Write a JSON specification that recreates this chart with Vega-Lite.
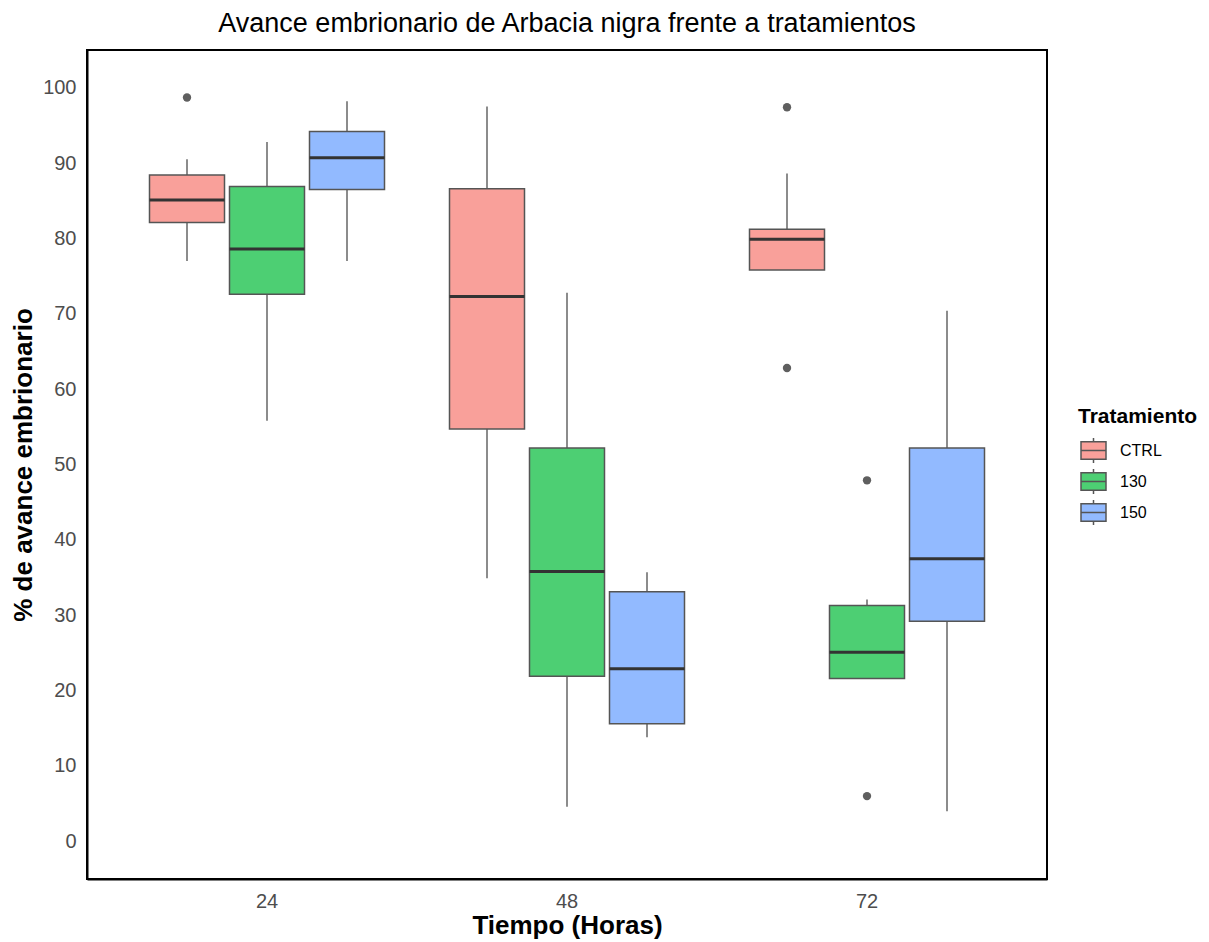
{
  "$schema": "https://vega.github.io/schema/vega-lite/v6.json",
  "width": 960,
  "height": 829,
  "autosize": {"type": "none"},
  "padding": {"left": 87, "top": 50, "right": 162, "bottom": 63},
  "background": "white",
  "title": {
    "text": "Avance embrionario de Arbacia nigra frente a tratamientos",
    "font": "Liberation Sans",
    "fontSize": 27,
    "fontWeight": "normal",
    "color": "#000000",
    "anchor": "middle",
    "baseline": "alphabetic",
    "offset": 0,
    "dy": 9
  },
  "config": {
    "view": {"stroke": "#000000", "strokeWidth": 2},
    "font": "Liberation Sans",
    "axis": {"grid": false, "ticks": false, "domainColor": "#000000", "domainWidth": 2, "labelColor": "#4D4D4D", "labelFontSize": 20, "labelFont": "Liberation Sans", "titleFont": "Liberation Sans", "titleFontWeight": "bold", "titleFontSize": 26, "titleColor": "#000000"}
  },
  "datasets": {
    "cajas": [
      {"hora": "24", "trat": "CTRL", "lower": 77.0, "q1": 82.1, "median": 85.1, "q3": 88.4, "upper": 90.5},
      {"hora": "24", "trat": "130", "lower": 55.8, "q1": 72.6, "median": 78.6, "q3": 86.9, "upper": 92.8},
      {"hora": "24", "trat": "150", "lower": 77.0, "q1": 86.5, "median": 90.7, "q3": 94.2, "upper": 98.2},
      {"hora": "48", "trat": "CTRL", "lower": 34.9, "q1": 54.7, "median": 72.3, "q3": 86.6, "upper": 97.5},
      {"hora": "48", "trat": "130", "lower": 4.6, "q1": 21.9, "median": 35.8, "q3": 52.2, "upper": 72.8},
      {"hora": "48", "trat": "150", "lower": 13.8, "q1": 15.6, "median": 22.9, "q3": 33.1, "upper": 35.7},
      {"hora": "72", "trat": "CTRL", "lower": 75.8, "q1": 75.8, "median": 79.9, "q3": 81.2, "upper": 88.6},
      {"hora": "72", "trat": "130", "lower": 21.6, "q1": 21.6, "median": 25.1, "q3": 31.3, "upper": 32.1},
      {"hora": "72", "trat": "150", "lower": 4.0, "q1": 29.2, "median": 37.5, "q3": 52.2, "upper": 70.4}
    ],
    "atipicos": [
      {"hora": "24", "trat": "CTRL", "valor": 98.7},
      {"hora": "72", "trat": "CTRL", "valor": 97.4},
      {"hora": "72", "trat": "CTRL", "valor": 62.8},
      {"hora": "72", "trat": "130", "valor": 47.9},
      {"hora": "72", "trat": "130", "valor": 6.0}
    ]
  },
  "encoding": {
    "x": {
      "field": "hora", "type": "nominal",
      "sort": ["24", "48", "72"],
      "scale": {"domain": ["24", "48", "72"], "paddingInner": 0, "paddingOuter": 0.1},
      "axis": {"title": "Tiempo (Horas)", "labelAngle": 0, "labelPadding": 12, "titlePadding": 1}
    },
    "xOffset": {
      "field": "trat", "type": "nominal",
      "scale": {"domain": ["CTRL", "130", "150"], "paddingInner": 0.0625, "paddingOuter": 0.40625}
    }
  },
  "layer": [
    {
      "data": {"name": "cajas"},
      "mark": {"type": "rule", "color": "#666666", "strokeWidth": 1.5},
      "encoding": {
        "y": {"field": "lower", "type": "quantitative",
          "scale": {"domain": [-5, 105], "nice": false, "zero": false},
          "axis": {"title": "% de avance embrionario", "values": [0, 10, 20, 30, 40, 50, 60, 70, 80, 90, 100], "labelPadding": 11, "titlePadding": 6}},
        "y2": {"field": "upper"}
      }
    },
    {
      "data": {"name": "cajas"},
      "mark": {"type": "bar", "stroke": "#555555", "strokeWidth": 1.5, "opacity": 1},
      "encoding": {
        "y": {"field": "q1", "type": "quantitative"},
        "y2": {"field": "q3"},
        "fill": {
          "field": "trat", "type": "nominal",
          "scale": {"domain": ["CTRL", "130", "150"], "range": ["#F9A09A", "#4DCF73", "#92BAFF"]},
          "legend": {
            "title": "Tratamiento",
            "orient": "none",
            "legendX": 991,
            "legendY": 356,
            "padding": 0,
            "titleFont": "Liberation Sans",
            "titleFontSize": 21,
            "titleFontWeight": "bold",
            "titleColor": "#000000",
            "titlePadding": 10,
            "labelFont": "Liberation Sans",
            "labelFontSize": 16,
            "labelColor": "#000000",
            "labelOffset": 13,
            "rowPadding": 0,
            "symbolType": "M-1,-0.7H1V0.7H-1Z M-1,0H1 M0,-0.7V-1 M0,0.7V1",
            "symbolSize": 625,
            "symbolStrokeColor": "#555555",
            "symbolStrokeWidth": 1.5,
            "symbolOpacity": 1,
            "symbolOffset": 2
          }
        }
      }
    },
    {
      "data": {"name": "cajas"},
      "mark": {"type": "tick", "orient": "horizontal", "color": "#333333", "thickness": 3, "size": 75, "opacity": 1},
      "encoding": {
        "y": {"field": "median", "type": "quantitative"}
      }
    },
    {
      "data": {"name": "atipicos"},
      "mark": {"type": "point", "filled": true, "color": "#5F5F5F", "size": 70, "opacity": 1},
      "encoding": {
        "y": {"field": "valor", "type": "quantitative"}
      }
    }
  ]
}
